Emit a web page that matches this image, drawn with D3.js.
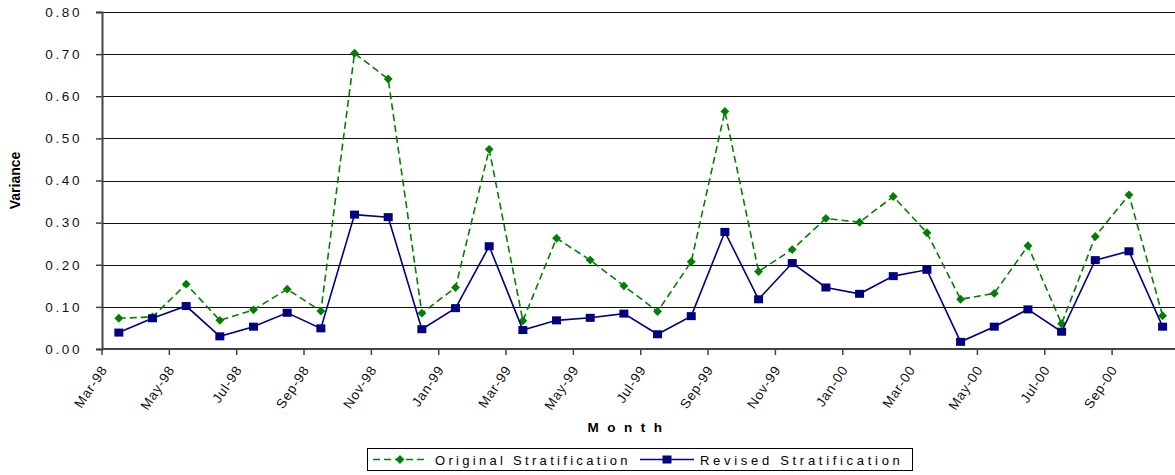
<!DOCTYPE html>
<html>
<head>
<meta charset="utf-8">
<script src="https://cdn.jsdelivr.net/npm/d3@7"></script>
<style>
  html, body { margin: 0; padding: 0; background: #fff; }
  svg { display: block; font-family: "Liberation Sans", Arial, sans-serif; }
</style>
</head>
<body>
<svg id="chart" width="1175" height="475"></svg>
<script>
// Monthly variance, Mar-98 through Oct-00
const months = ["Mar-98","Apr-98","May-98","Jun-98","Jul-98","Aug-98","Sep-98","Oct-98","Nov-98","Dec-98",
  "Jan-99","Feb-99","Mar-99","Apr-99","May-99","Jun-99","Jul-99","Aug-99","Sep-99","Oct-99","Nov-99","Dec-99",
  "Jan-00","Feb-00","Mar-00","Apr-00","May-00","Jun-00","Jul-00","Aug-00","Sep-00","Oct-00"];

const original = [0.073, 0.076, 0.154, 0.068, 0.093, 0.142, 0.090, 0.702, 0.641, 0.085,
  0.146, 0.474, 0.067, 0.263, 0.211, 0.150, 0.089, 0.207, 0.564, 0.184,
  0.236, 0.310, 0.301, 0.362, 0.276, 0.118, 0.132, 0.245, 0.060, 0.267,
  0.366, 0.079];

const revised = [0.039, 0.073, 0.102, 0.030, 0.053, 0.086, 0.049, 0.319, 0.313, 0.047,
  0.097, 0.244, 0.045, 0.068, 0.074, 0.084, 0.035, 0.078, 0.278, 0.118,
  0.204, 0.146, 0.131, 0.173, 0.188, 0.017, 0.053, 0.094, 0.041, 0.211,
  0.232, 0.053];

const yTicks = [0, 0.1, 0.2, 0.3, 0.4, 0.5, 0.6, 0.7, 0.8];
const seriesNames = ["Original Stratification", "Revised Stratification"];

const svg = d3.select("#chart");
const plotLeft = 102, plotTop = 12, plotBottom = 349;
const bandW = 33.67;
const plotRight = plotLeft + months.length * bandW;

const x = d3.scaleBand().domain(months).range([plotLeft, plotRight]).paddingInner(0).paddingOuter(0);
const y = d3.scaleLinear().domain([0, 0.8]).range([plotBottom, plotTop]);

// horizontal gridlines
svg.append("g").selectAll("line").data(yTicks.slice(1)).join("line")
  .attr("x1", plotLeft).attr("x2", plotRight)
  .attr("y1", d => Math.round(y(d)) + 0.5).attr("y2", d => Math.round(y(d)) + 0.5)
  .attr("stroke", "#111").attr("stroke-width", 1);

// y axis
const yAxis = svg.append("g").attr("transform", `translate(${plotLeft},0)`)
  .call(d3.axisLeft(y).tickValues(yTicks).tickSize(6).tickPadding(14).tickFormat(d3.format(".2f")));
yAxis.select(".domain").attr("stroke", "#444").attr("stroke-width", 2);
yAxis.selectAll(".tick line").attr("stroke", "#444").attr("stroke-width", 1.5);
yAxis.selectAll(".tick text").attr("font-size", 13.5).attr("fill", "#111")
  .attr("letter-spacing", "2.6px").attr("font-family", "Liberation Sans, Arial, sans-serif");

// x axis: ticks at every second month boundary
const tickMonths = months.filter((d, i) => i % 2 === 0);
const xg = svg.append("g");
xg.append("line").attr("x1", plotLeft).attr("x2", plotRight).attr("y1", plotBottom).attr("y2", plotBottom)
  .attr("stroke", "#444").attr("stroke-width", 2);
xg.selectAll("line.tk").data(tickMonths.concat(["__end"])).join("line").attr("class", "tk")
  .attr("x1", d => d === "__end" ? plotRight : x(d)).attr("x2", d => d === "__end" ? plotRight : x(d))
  .attr("y1", plotBottom).attr("y2", plotBottom + 6)
  .attr("stroke", "#444").attr("stroke-width", 1.5);
xg.selectAll("text").data(tickMonths).join("text")
  .attr("transform", d => `translate(${x(d) + 2},${plotBottom + 18}) rotate(-56)`)
  .attr("text-anchor", "end").attr("dy", "0.35em")
  .attr("font-size", 13.5).attr("letter-spacing", "0.8px").attr("fill", "#111")
  .text(d => d);

// axis titles
svg.append("text").attr("transform", `translate(20,${(plotTop + plotBottom) / 2}) rotate(-90)`)
  .attr("text-anchor", "middle").attr("font-size", 14).attr("font-weight", "bold")
  .text("Variance");
svg.append("text").attr("x", 629).attr("y", 432).attr("text-anchor", "middle")
  .attr("font-size", 13.5).attr("font-weight", "bold").attr("letter-spacing", "8.5px")
  .text("Month");

const cx = d => x(d) + x.bandwidth() / 2;
const line = d3.line().x((d, i) => cx(months[i])).y(d => y(d));

// Original series: green dashed with diamonds
svg.append("path").datum(original).attr("d", line)
  .attr("fill", "none").attr("stroke", "#008000").attr("stroke-width", 1.6).attr("stroke-dasharray", "7,4");
const diamond = d3.symbol().type(d3.symbolDiamond2).size(50);
svg.append("g").selectAll("path").data(original).join("path")
  .attr("transform", (d, i) => `translate(${cx(months[i])},${y(d)})`)
  .attr("d", diamond).attr("fill", "#008000");

// Revised series: navy solid with squares
svg.append("path").datum(revised).attr("d", line)
  .attr("fill", "none").attr("stroke", "#000080").attr("stroke-width", 1.6);
svg.append("g").selectAll("rect").data(revised).join("rect")
  .attr("x", (d, i) => cx(months[i]) - 4.5).attr("y", d => y(d) - 4)
  .attr("width", 9).attr("height", 8).attr("fill", "#000080");

// legend
const lg = svg.append("g");
lg.append("rect").attr("x", 367.5).attr("y", 448.5).attr("width", 545).attr("height", 22)
  .attr("fill", "#fff").attr("stroke", "#000").attr("stroke-width", 1);
lg.append("line").attr("x1", 373).attr("x2", 428).attr("y1", 459.5).attr("y2", 459.5)
  .attr("stroke", "#008000").attr("stroke-width", 1.6).attr("stroke-dasharray", "7,4");
lg.append("path").attr("transform", "translate(400,459.5)").attr("d", diamond).attr("fill", "#008000");
lg.append("text").attr("x", 435).attr("y", 464.5).attr("font-size", 13).attr("letter-spacing", "3.3px")
  .text(seriesNames[0]);
lg.append("line").attr("x1", 640).attr("x2", 694).attr("y1", 459.5).attr("y2", 459.5)
  .attr("stroke", "#000080").attr("stroke-width", 1.6);
lg.append("rect").attr("x", 662.5).attr("y", 455.5).attr("width", 9).attr("height", 8).attr("fill", "#000080");
lg.append("text").attr("x", 700).attr("y", 464.5).attr("font-size", 13).attr("letter-spacing", "3.7px")
  .text(seriesNames[1]);
</script>
</body>
</html>
